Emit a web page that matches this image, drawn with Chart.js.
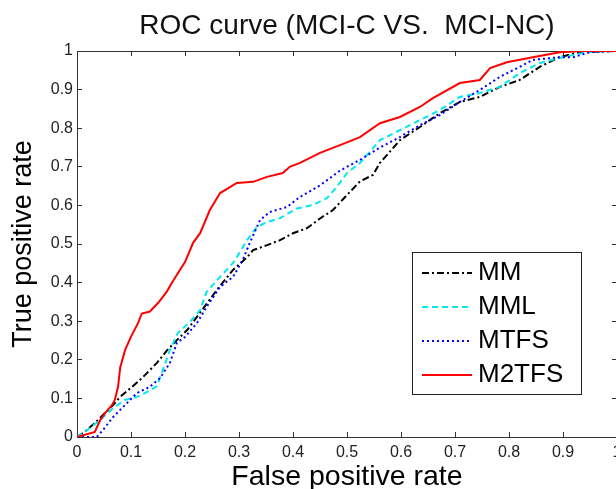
<!DOCTYPE html>
<html>
<head>
<meta charset="utf-8">
<title>ROC curve (MCI-C VS. MCI-NC)</title>
<script src="https://cdn.jsdelivr.net/npm/chart.js@4.4.1/dist/chart.umd.min.js"></script>
<style>
  html, body { margin: 0; padding: 0; background: #fff; overflow: hidden; }
  #wrap { width: 616px; height: 489px; overflow: hidden; }
</style>
</head>
<body>
<div id="wrap"><canvas id="chart" width="694" height="489"></canvas></div>
<script>
// values
const seriesLabels = ["MM", "MML", "MTFS", "M2TFS"];

const mmFpr = [0, .011, .033, .048, .067, .08, .102, .122, .148, .167, .185, .204, .222, .24, .259, .289, .315, .326, .352, .376, .4, .426, .45, .474, .5, .524, .548, .561, .598, .635, .672, .709, .746, .783, .82, .857, .894, .93, 1];
const mmTpr = [0, .01, .036, .057, .083, .104, .13, .155, .192, .225, .251, .277, .311, .345, .381, .433, .466, .484, .497, .51, .528, .541, .566, .588, .627, .662, .679, .71, .769, .803, .839, .868, .881, .907, .925, .959, .984, .997, 1];

const mmlFpr = [0, .019, .043, .067, .089, .111, .13, .148, .159, .172, .187, .209, .228, .24, .265, .289, .296, .315, .333, .352, .376, .407, .437, .463, .481, .5, .524, .561, .598, .635, .672, .709, .746, .783, .82, .857, .894, .944, 1];
const mmlTpr = [0, .018, .044, .075, .096, .104, .117, .132, .174, .225, .27, .298, .329, .376, .415, .451, .466, .51, .544, .557, .567, .592, .601, .619, .648, .684, .71, .769, .795, .821, .847, .881, .891, .907, .943, .969, .982, .997, 1];

const mtfsFpr = [0, .037, .048, .067, .089, .111, .135, .154, .172, .185, .2, .222, .24, .265, .289, .307, .32, .339, .357, .389, .413, .45, .487, .524, .561, .598, .635, .672, .709, .746, .783, .82, .844, .894, .919, .95, 1];
const mtfsTpr = [0, 0, .018, .052, .083, .114, .13, .153, .192, .244, .259, .295, .337, .389, .415, .459, .503, .562, .583, .596, .622, .652, .69, .718, .75, .777, .808, .834, .868, .899, .933, .959, .977, .984, .984, .997, 1];

const m2tfsFpr = [0, .033, .043, .052, .065, .07, .076, .08, .089, .10, .113, .12, .135, .15, .166, .178, .20, .215, .228, .246, .265, .296, .326, .352, .381, .394, .413, .45, .487, .524, .561, .598, .635, .659, .709, .746, .765, .796, .844, .894, .937, 1];
const m2tfsTpr = [0, .013, .044, .062, .083, .096, .13, .18, .225, .26, .295, .32, .325, .347, .376, .405, .453, .503, .528, .588, .632, .658, .661, .674, .684, .70, .71, .736, .756, .777, .813, .829, .855, .878, .917, .925, .956, .971, .984, .997, 1, 1];

const axisMin = 0;
const axisMax = 1;
const axisStep = 0.1;

const font = "'Liberation Sans', Arial, sans-serif";

function toPoints(xs, ys) {
  return xs.map((x, i) => ({ x, y: ys[i] }));
}

const datasets = [
  { label: seriesLabels[0], data: toPoints(mmFpr, mmTpr), borderColor: "#000000", borderDash: [7, 3, 2, 3], order: 4 },
  { label: seriesLabels[1], data: toPoints(mmlFpr, mmlTpr), borderColor: "#00e8f0", borderDash: [6, 4], order: 3 },
  { label: seriesLabels[2], data: toPoints(mtfsFpr, mtfsTpr), borderColor: "#0000ff", borderDash: [2, 3], order: 2 },
  { label: seriesLabels[3], data: toPoints(m2tfsFpr, m2tfsTpr), borderColor: "#ff0000", borderDash: [], order: 1 }
].map(d => ({
  ...d,
  showLine: true,
  borderWidth: 2,
  pointRadius: 0,
  tension: 0,
  fill: false
}));

// legend box drawn inside the plot, bottom right, like the matlab figure
const boxLegend = {
  id: "boxLegend",
  afterDatasetsDraw(c) {
    const { ctx, chartArea } = c;
    const w = 169, h = 142;
    const left = chartArea.right - 36 - w;
    const top = chartArea.bottom - 43 - h;
    ctx.save();
    ctx.fillStyle = "#fff";
    ctx.fillRect(left, top, w, h);
    ctx.strokeStyle = "#222";
    ctx.lineWidth = 1;
    ctx.strokeRect(left + 0.5, top + 0.5, w, h);
    ctx.font = "26px " + font;
    ctx.textBaseline = "middle";
    ctx.textAlign = "left";
    c.data.datasets.forEach((d, i) => {
      const y = top + 21 + i * 34;
      ctx.beginPath();
      ctx.setLineDash(d.borderDash);
      ctx.strokeStyle = d.borderColor;
      ctx.lineWidth = 2;
      ctx.moveTo(left + 10, y);
      ctx.lineTo(left + 60, y);
      ctx.stroke();
      ctx.setLineDash([]);
      ctx.fillStyle = "#000";
      ctx.fillText(d.label, left + 66, y);
    });
    ctx.restore();
  }
};

const tickStyle = {
  drawOnChartArea: false,
  drawTicks: true,
  tickLength: -5,
  color: "#333"
};

const tickLabel = v => String(Math.round(v * 10) / 10);

new Chart(document.getElementById("chart"), {
  type: "scatter",
  data: { datasets },
  options: {
    responsive: false,
    animation: false,
    devicePixelRatio: 1,
    layout: { padding: 0 },
    plugins: {
      legend: { display: false },
      tooltip: { enabled: false },
      title: {
        display: true,
        text: "ROC curve (MCI-C VS.  MCI-NC)",
        color: "#111",
        font: { family: font, size: 28, weight: "normal", lineHeight: 1.2 },
        padding: { top: 9, bottom: 8.4 }
      }
    },
    scales: {
      x: {
        type: "linear",
        position: "bottom",
        min: axisMin,
        max: axisMax,
        grid: tickStyle,
        border: { display: true, color: "#333", width: 1 },
        ticks: { stepSize: axisStep, color: "#222", padding: 11, maxRotation: 0, callback: tickLabel, font: { family: font, size: 16 } },
        title: {
          display: true,
          text: "False positive rate",
          color: "#000",
          font: { family: font, size: 28.5, lineHeight: 0.8 },
          padding: { top: 0, bottom: 0 }
        },
        afterFit: s => { s.height = 52; }
      },
      y: {
        type: "linear",
        position: "left",
        min: axisMin,
        max: axisMax,
        grid: tickStyle,
        border: { display: true, color: "#333", width: 1 },
        ticks: { stepSize: axisStep, color: "#222", padding: 9, callback: tickLabel, font: { family: font, size: 16 } },
        title: {
          display: true,
          text: "True positive rate",
          color: "#000",
          font: { family: font, size: 27, lineHeight: 1.2 },
          padding: { top: 7, bottom: 0 }
        },
        afterFit: s => { s.width = 77; }
      },
      x2: {
        type: "linear",
        position: "top",
        min: axisMin,
        max: axisMax,
        grid: tickStyle,
        border: { display: true, color: "#333", width: 1 },
        ticks: { stepSize: axisStep, display: false },
        afterFit: s => { s.height = 0; }
      },
      y2: {
        type: "linear",
        position: "right",
        min: axisMin,
        max: axisMax,
        grid: tickStyle,
        border: { display: true, color: "#333", width: 1 },
        ticks: { stepSize: axisStep, display: false },
        afterFit: s => { s.width = 77; }
      }
    }
  },
  plugins: [boxLegend]
});
</script>
</body>
</html>
